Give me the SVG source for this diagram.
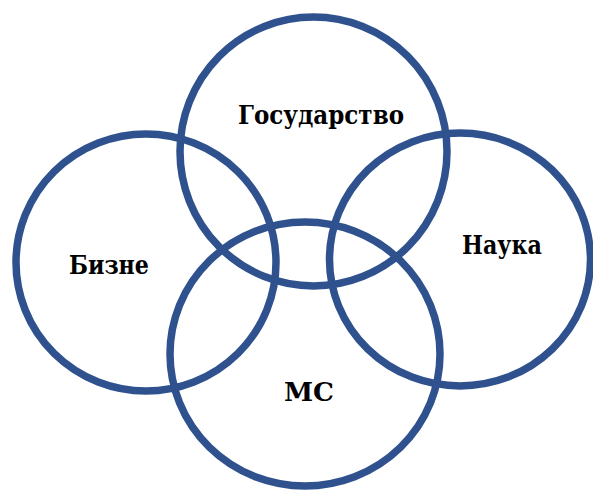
<svg xmlns="http://www.w3.org/2000/svg" width="593" height="492" viewBox="0 0 593 492">
<style>
.c{fill:none;stroke:#2F528F;stroke-width:7.5}
.t{font-family:"DejaVu Serif","Liberation Serif",serif;font-weight:bold;font-size:26px;fill:#000;text-anchor:middle}
</style>
<rect width="593" height="492" fill="#fff"/>
<g id="gosudarstvo">
<ellipse class="c" cx="313.5" cy="151.5" rx="133.5" ry="134.5"/>
<text class="t" x="321" y="124" textLength="166" lengthAdjust="spacingAndGlyphs">Государство</text>
</g>
<g id="bizne">
<ellipse class="c" cx="146" cy="262.5" rx="130" ry="128.5"/>
<text class="t" x="109" y="274" textLength="80" lengthAdjust="spacingAndGlyphs">Бизне</text>
</g>
<g id="nauka">
<ellipse class="c" cx="460" cy="259.5" rx="130.5" ry="126.5"/>
<text class="t" x="502" y="254" textLength="80" lengthAdjust="spacingAndGlyphs">Наука</text>
</g>
<g id="ms">
<ellipse class="c" cx="305" cy="354" rx="135" ry="132"/>
<text class="t" x="309" y="401" textLength="50" lengthAdjust="spacingAndGlyphs">МС</text>
</g>
<g id="connectors"/>
</svg>
